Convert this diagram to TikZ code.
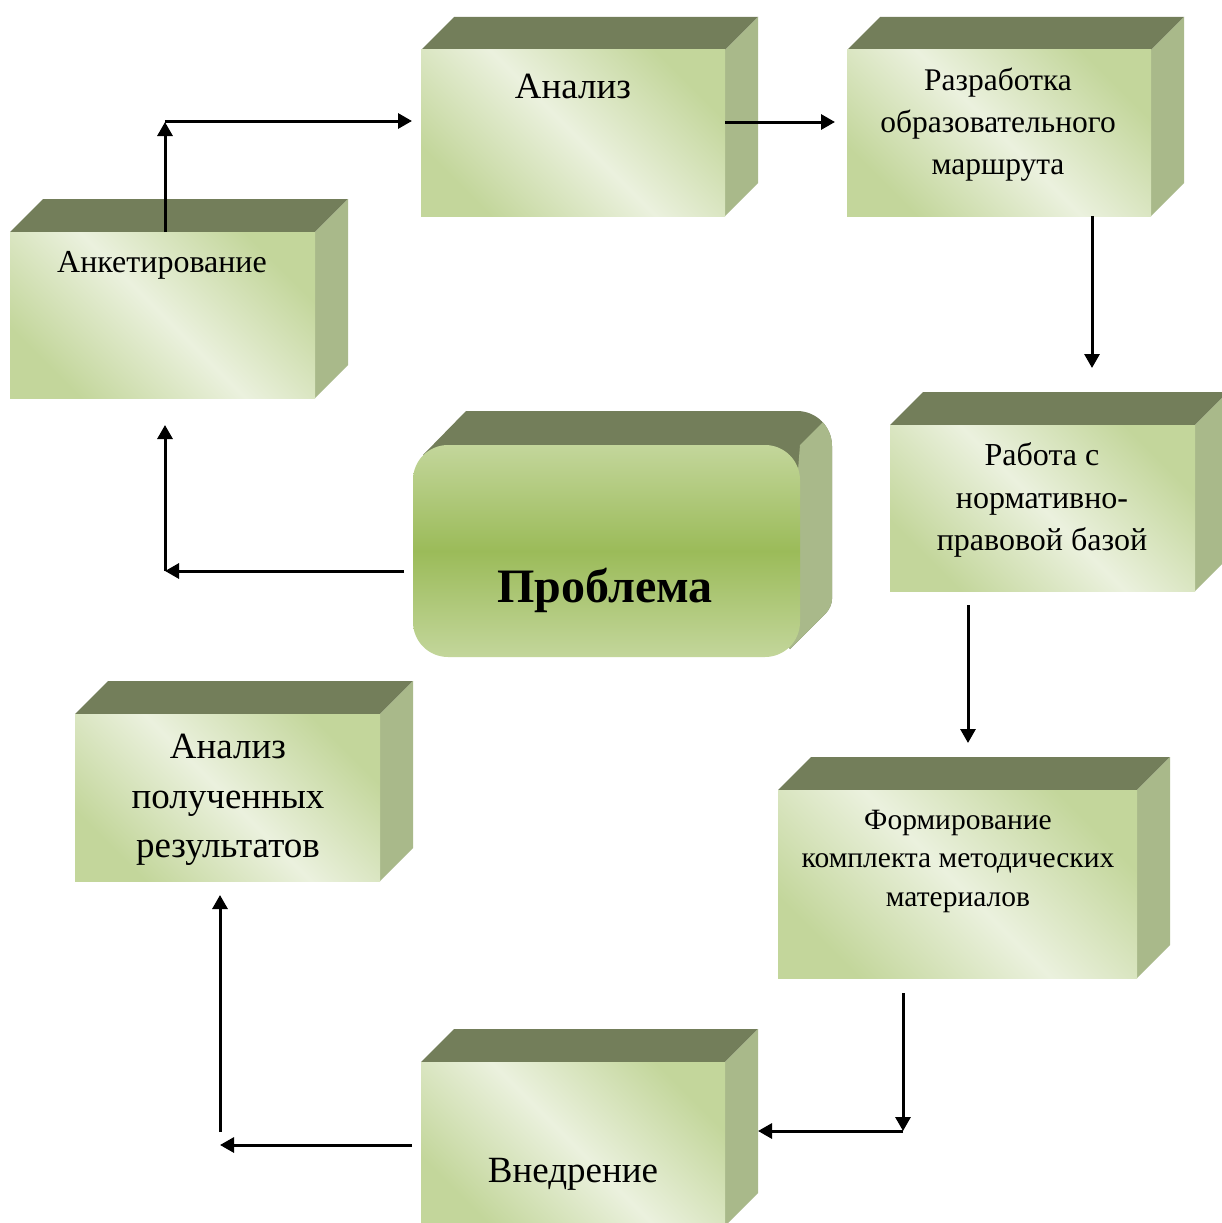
\documentclass[tikz,border=0pt]{standalone}
\usepackage{fontspec}
\setmainfont{Liberation Serif}
\usetikzlibrary{arrows.meta}
\definecolor{topc}{HTML}{737E5A}
\definecolor{sidec}{HTML}{A9B98A}
\definecolor{gA}{HTML}{C3D69B}
\definecolor{gL}{HTML}{EBF1DE}
\definecolor{gM}{HTML}{9BBB59}
\tikzset{
  topface/.style={fill=topc},
  sideface/.style={fill=sidec},
  frontface/.style={top color=gA, bottom color=gA, middle color=gL, shading angle=-45, inner sep=0pt, outer sep=0pt, draw=none},
  probface/.style={top color=gA, bottom color=gA, middle color=gM, inner sep=0pt, outer sep=0pt, draw=none, rounded corners=35pt},
  lbl/.style={align=center, inner sep=0pt, text=black},
  arr/.style={line width=3pt, -{Triangle[length=14pt,width=15pt]}},
}
\newcommand\mycube[6]{%
  \fill[topface] (#2,#3) -- ({#2+#6},{#3-#6}) -- ({#4+#6},{#3-#6}) -- (#4,#3) -- cycle;
  \fill[sideface] (#4,#3) -- ({#4+#6},{#3-#6}) -- ({#4+#6},{#5-#6}) -- (#4,#5) -- cycle;
  \node[frontface, minimum width={#4-#2}, minimum height={#5-#3}] (#1) at ({(#2+#4)/2},{(#3+#5)/2}) {};
}
\newcommand\probsil{(448,480) -- (423,455) -- (466,411) [rounded corners=35pt] -- (832,411) [rounded corners=8pt] -- (832,607) [sharp corners] -- (790,649) -- (765,622) -- cycle}
\begin{document}
\begin{tikzpicture}[x=1pt, y=-1pt]
\useasboundingbox[fill=white] (0,0) rectangle (1221,1223);

% boxes
\mycube{ank}{10}{232}{315}{398}{33}
\mycube{anal}{421}{50}{725}{216}{33}
\mycube{razr}{847}{50}{1151}{216}{33}
\mycube{rab}{890}{425}{1195}{591}{33}
\mycube{form}{778}{790}{1137}{978}{33}
\mycube{vned}{421}{1062}{725}{1226}{33}
\mycube{anres}{75}{714}{380}{881}{33}

% problem box
\fill[topface] \probsil;
\begin{scope}
  \clip \probsil;
  \fill[sideface] (800,445) -- (834,411) -- (840,411) -- (840,700) -- (780,700) -- cycle;
\end{scope}
\node[probface, minimum width=387, minimum height=212] (prob) at (606.5,551) {};

% labels
\node[lbl, font=\fontsize{32}{41}\selectfont] (ankt) at (162,265) {Анкетирование};
\node[lbl, font=\fontsize{37}{41}\selectfont] (analt) at (573,86) {Анализ};
\node[lbl, font=\fontsize{31.5}{42}\selectfont] (razrt) at (998,125) {Разработка\\образовательного\\маршрута};
\node[lbl, font=\fontsize{32}{42.5}\selectfont] (rabt) at (1042,500) {Работа с\\нормативно-\\правовой базой};
\node[lbl, font=\bfseries\fontsize{48}{50}\selectfont] (probt) at (605,590) {Проблема};
\node[lbl, font=\fontsize{37}{49.5}\selectfont] (anrest) at (228,800) {Анализ\\полученных\\результатов};
\node[lbl, font=\fontsize{29.5}{38.5}\selectfont] (formt) at (958,861) {Формирование\\комплекта методических\\материалов};
\node[lbl, font=\fontsize{37}{41}\selectfont] (vnedt) at (573,1174) {Внедрение};

% connector points
\coordinate (p1) at (165,232);
\coordinate (p1b) at (165,122);
\coordinate (p1c) at (165,121);
\coordinate (p1e) at (412,121);
\coordinate (p2s) at (725,122);
\coordinate (p2e) at (835,122);
\coordinate (p3s) at (1092,216);
\coordinate (p3e) at (1092,368);
\coordinate (p4s) at (968,605);
\coordinate (p4e) at (968,743);
\coordinate (p5s) at (903,993);
\coordinate (p5e) at (903,1131);
\coordinate (p6e) at (758,1131);
\coordinate (p7s) at (412,1145);
\coordinate (p7e) at (220,1145);
\coordinate (p8s) at (220,1132);
\coordinate (p8e) at (220,895);
\coordinate (p9s) at (404,571);
\coordinate (p9e) at (165,571);
\coordinate (p10e) at (165,425);

% connectors
\draw[arr] (p1) -- (p1b);
\draw[arr] (p1c) -- (p1e);
\draw[arr] (p2s) -- (p2e);
\draw[arr] (p3s) -- (p3e);
\draw[arr] (p4s) -- (p4e);
\draw[arr] (p5s) -- (p5e);
\draw[arr] (p5e) -- (p6e);
\draw[arr] (p7s) -- (p7e);
\draw[arr] (p8s) -- (p8e);
\draw[arr] (p9s) -- (p9e);
\draw[arr] (p9e) -- (p10e);
\end{tikzpicture}
\end{document}
